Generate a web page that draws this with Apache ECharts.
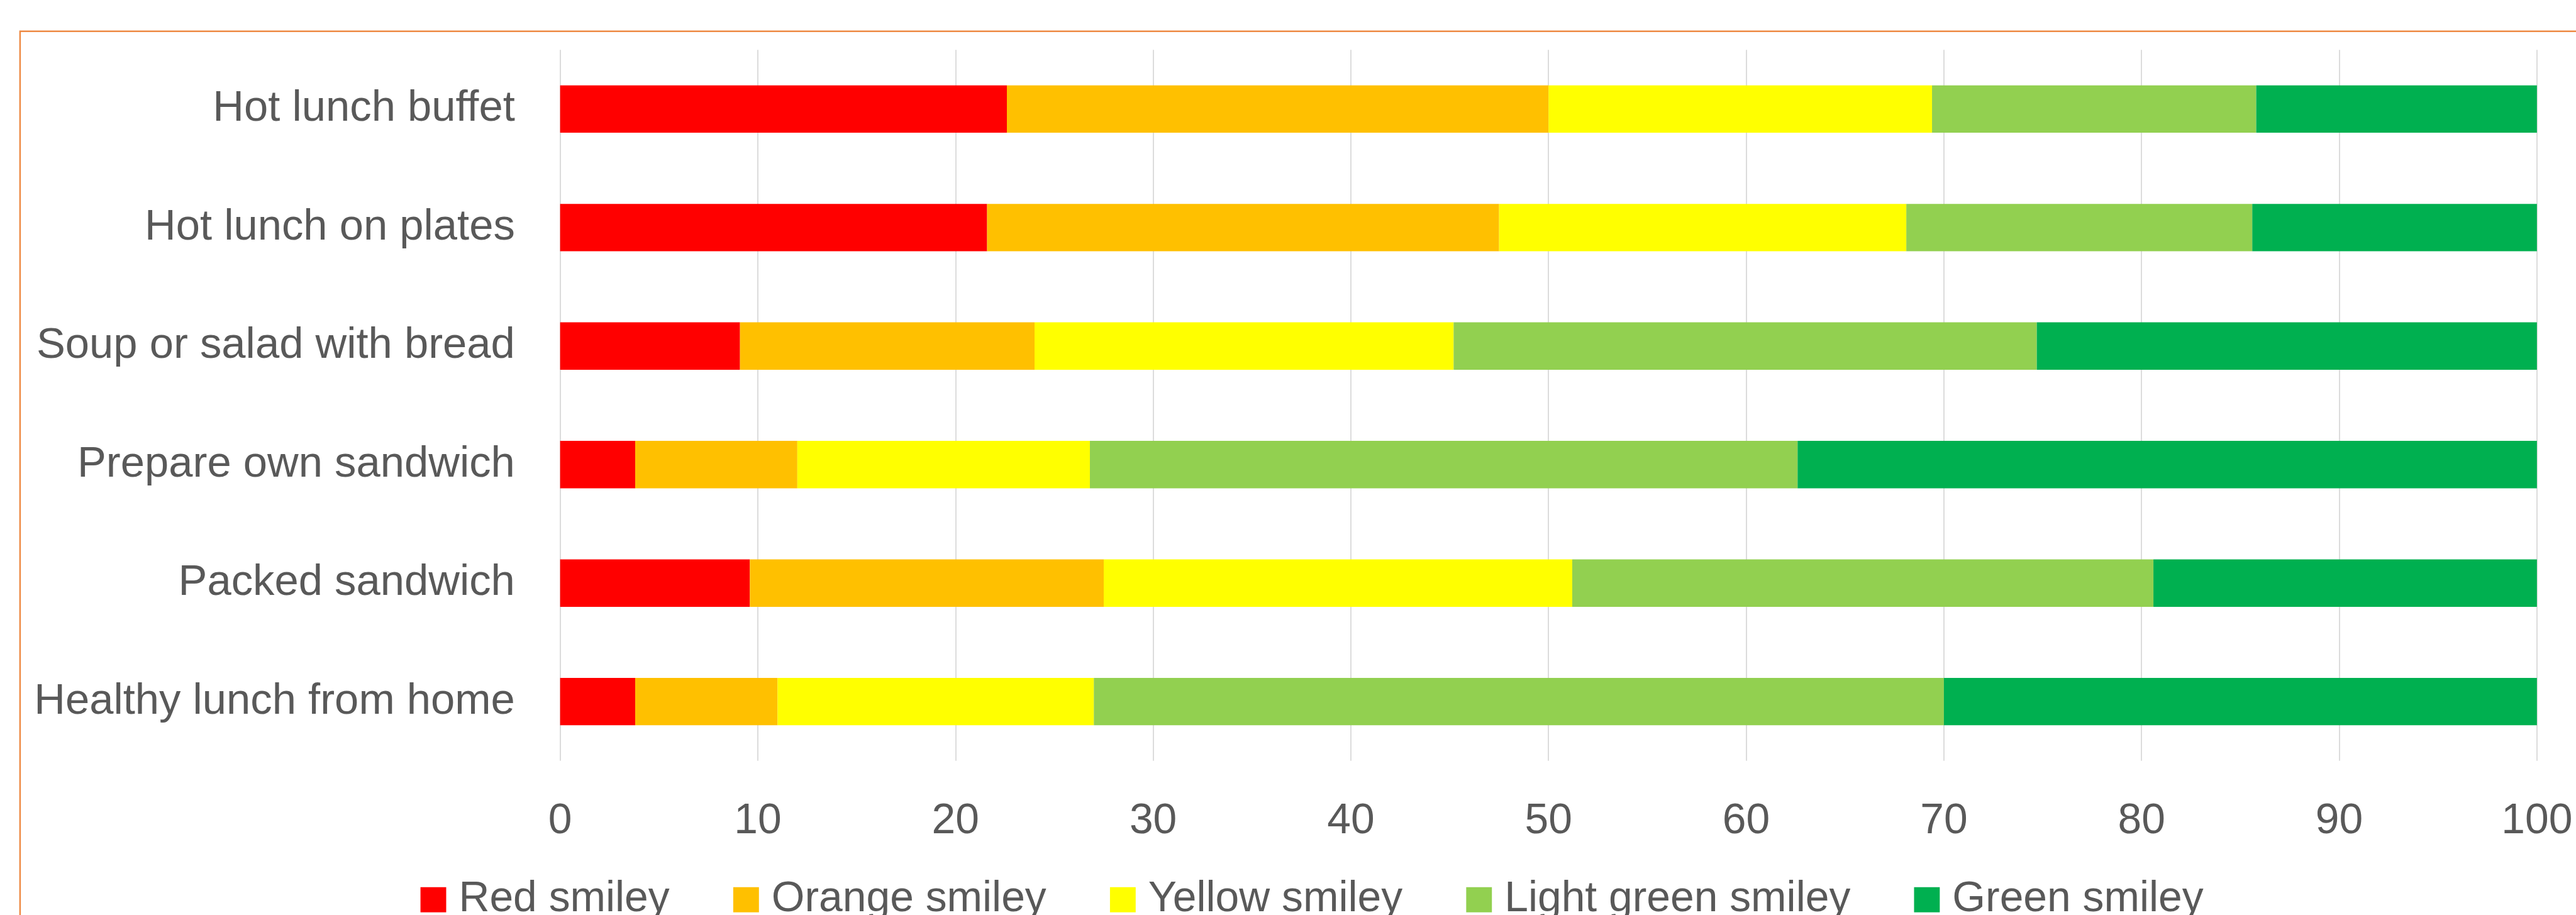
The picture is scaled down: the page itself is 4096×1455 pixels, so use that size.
<!DOCTYPE html>
<html><head><meta charset="utf-8">
<script src="https://cdn.jsdelivr.net/npm/echarts@6/dist/echarts.min.js"></script>
<style>html,body{margin:0;padding:0;background:#fff;overflow:hidden}#c{width:4096px;height:1455px}</style>
</head><body><div id="c"></div>
<script>
const categories = ['Hot lunch buffet','Hot lunch on plates','Soup or salad with bread','Prepare own sandwich','Packed sandwich','Healthy lunch from home'];
const seriesNames = ['Red smiley','Orange smiley','Yellow smiley','Light green smiley','Green smiley'];
const redSmiley = [22.6, 21.6, 9.1, 3.8, 9.6, 3.8];
const orangeSmiley = [27.4, 25.9, 14.9, 8.2, 17.9, 7.2];
const yellowSmiley = [19.4, 20.6, 21.2, 14.8, 23.7, 16.0];
const lightGreenSmiley = [16.4, 17.5, 29.5, 35.8, 29.4, 43.0];
const greenSmiley = [14.2, 14.4, 25.3, 37.4, 19.4, 30.0];
const xAxisMin = 0, xAxisMax = 100, xAxisStep = 10;

const colors = ['#FF0000','#FFC000','#FFFF00','#92D050','#00B050'];
const seriesData = [redSmiley, orangeSmiley, yellowSmiley, lightGreenSmiley, greenSmiley];
const FONT = 'Liberation Sans';
const TXT = '#595959';
const S = 0.997;

const chart = echarts.init(document.getElementById('c'), null, {renderer: 'canvas'});
chart.setOption({
  animation: false,
  backgroundColor: '#fff',
  graphic: [{
    type: 'rect', silent: true,
    shape: {x: 32 * S, y: 50 * S, width: 6000, height: 6000},
    style: {fill: 'none', stroke: '#EE8A44', lineWidth: 2.5}
  }],
  grid: {left: 893.3 * S, right: 4096 - 4046 * S, top: 79.4 * S, bottom: 1455 - 1213.5 * S, containLabel: false},
  legend: {
    left: 670.6 * S, top: 1401 * S, padding: 0,
    itemWidth: 41 * S, itemHeight: 40 * S, itemGap: 101.5 * S,
    icon: 'rect',
    data: seriesNames,
    textStyle: {fontFamily: FONT, fontSize: 68 * S, color: TXT, padding: [0, 0, 0, 15]}
  },
  xAxis: {
    type: 'value', min: xAxisMin, max: xAxisMax, interval: xAxisStep,
    axisLine: {show: false}, axisTick: {show: false},
    splitLine: {show: true, lineStyle: {color: '#D0D0D0', width: 1.5}},
    axisLabel: {fontFamily: FONT, fontSize: 68 * S, color: TXT, margin: 62}
  },
  yAxis: {
    type: 'category', data: categories, inverse: true,
    axisLine: {show: false}, axisTick: {show: false},
    axisLabel: {fontFamily: FONT, fontSize: 69 * S, color: TXT, margin: 72 * S}
  },
  series: seriesNames.map((n, i) => ({
    name: n, type: 'bar', stack: 'total', data: seriesData[i],
    barCategoryGap: '60%',
    itemStyle: {color: colors[i]}
  }))
});
</script></body></html>
